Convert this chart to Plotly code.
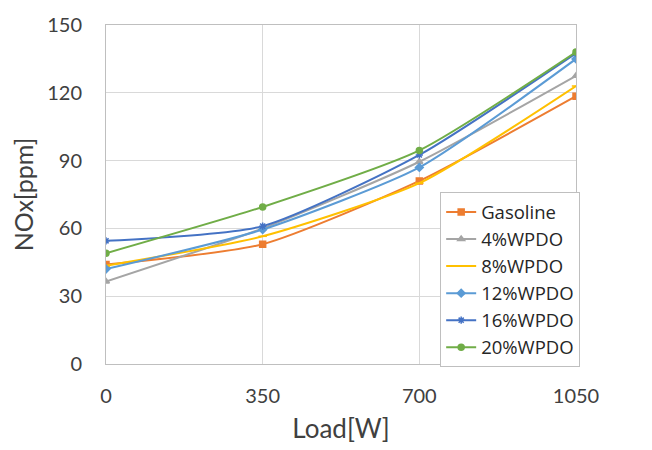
import plotly.graph_objects as go

load = [0, 350, 700, 1050]
series_names = ["Gasoline", "4%WPDO", "8%WPDO", "12%WPDO", "16%WPDO", "20%WPDO"]
gasoline = [44, 53, 81, 118.5]
wpdo4 = [36.5, 60, 89.5, 127.5]
wpdo8 = [43.5, 56.5, 80, 123]
wpdo12 = [42, 59.5, 87, 135]
wpdo16 = [54.5, 61, 92.5, 137.5]
wpdo20 = [49, 69.5, 94.5, 138]
y_ticks = [0, 30, 60, 90, 120, 150]
x_ticks = [0, 350, 700, 1050]

values = [gasoline, wpdo4, wpdo8, wpdo12, wpdo16, wpdo20]
colors = ["#ED7D31", "#A5A5A5", "#FFC000", "#5B9BD5", "#4472C4", "#70AD47"]
symbols = ["square", "triangle-up", "line-ew-open", "diamond", "asterisk-open", "circle"]

fig = go.Figure()
for name, vals, c, s in zip(series_names, values, colors, symbols):
    fig.add_trace(go.Scatter(
        x=load, y=vals, name=name, mode="lines+markers",
        line=dict(color=c, width=2, shape="spline", smoothing=0.6),
        marker=dict(symbol=s, size=6, color=c, line=dict(color=c, width=1.5)),
    ))

font_family = "Lato, Open Sans, sans-serif"
fig.update_layout(
    width=652, height=450,
    margin=dict(l=106, r=76, t=19, b=85),
    paper_bgcolor="white", plot_bgcolor="white",
    font=dict(family=font_family, color="#404040", size=20),
    showlegend=True,
    legend=dict(
        x=0.711, y=0.506, xanchor="left", yanchor="top",
        bordercolor="#BFBFBF", borderwidth=1, bgcolor="white",
        font=dict(family="Open Sans, sans-serif", size=18.5, color="#262626"),
        itemwidth=30, tracegroupgap=0,
        entrywidth=125, entrywidthmode="pixels",
    ),
)
fig.update_xaxes(
    range=[0, 1050], tickvals=x_ticks, ticktext=[str(t) for t in x_ticks],
    showgrid=True, gridcolor="#D9D9D9", gridwidth=1,
    showline=True, linecolor="#BFBFBF", mirror=True, zeroline=False,
    ticks="", ticklabelstandoff=14,
    title=dict(text="Load[W]", font=dict(size=26, color="#404040"), standoff=13),
)
fig.update_yaxes(
    range=[0, 150], tickvals=y_ticks,
    showgrid=True, gridcolor="#D9D9D9", gridwidth=1,
    showline=True, linecolor="#BFBFBF", mirror=True, zeroline=False,
    ticks="", ticklabelstandoff=19,
    title=dict(text="NOx[ppm]", font=dict(size=25, color="#404040"), standoff=6),
)

fig.write_html("out.html")
